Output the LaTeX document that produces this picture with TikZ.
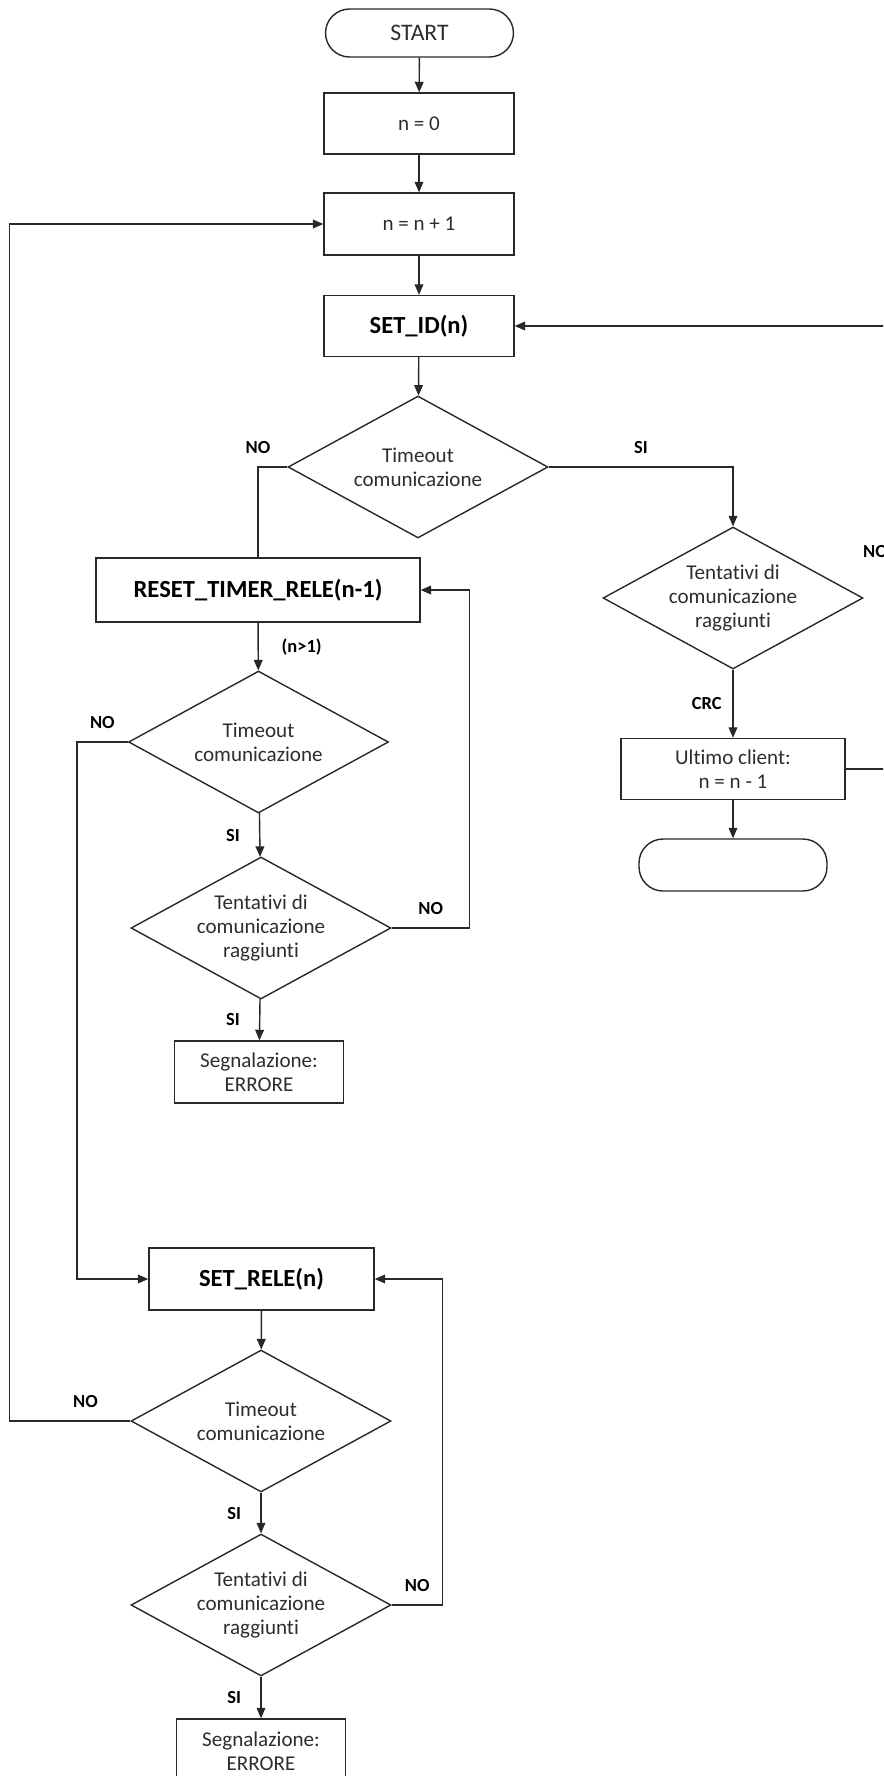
\documentclass[tikz,border=0pt]{standalone}
\usepackage{fontspec}
\setmainfont[Ligatures=NoCommon]{Carlito}
\usetikzlibrary{shapes.geometric, arrows.meta, positioning}
\definecolor{lineg}{RGB}{40, 40, 40}
\definecolor{textg}{RGB}{45, 45, 45}

\begin{document}
\begin{tikzpicture}[x=0.02cm, y=-0.02cm,
    box/.style={rectangle, draw=lineg, line width=0.8pt, inner sep=0pt,
                align=center, text=textg, font={\fontsize{12}{13.5}\selectfont}},
    boldbox/.style={box, text=black, font={\fontsize{14}{16}\selectfont\bfseries}},
    term/.style={box, rounded corners=0.48cm},
    decision/.style={diamond, draw=lineg, line width=0.8pt, aspect=1.83, inner sep=0pt,
                minimum width=5.2cm, minimum height=2.84cm, align=center, text=textg,
                font={\fontsize{12}{13.5}\selectfont}},
    lbl/.style={inner sep=1pt, text=black, font={\fontsize{10.5}{12}\selectfont\bfseries}},
    arr/.style={draw=lineg, line width=0.8pt, -{Triangle[length=6pt, width=5pt]}},
    ln/.style={draw=lineg, line width=0.8pt}]

    \useasboundingbox (0,0) rectangle (883,1776);
    \clip (0,0) rectangle (883,1776);

    % Start
    \node[term, minimum width=3.76cm, minimum height=0.96cm, font={\fontsize{13.5}{15}\selectfont}] (start) at (419.5, 33) {START};

    % Init
    \node[box, minimum width=3.8cm, minimum height=1.22cm] (n0) at (419, 123.5) {n = 0};
    \node[box, minimum width=3.8cm, minimum height=1.24cm] (ninc) at (419, 224) {n = n + 1};

    % SET_ID
    \node[boldbox, minimum width=3.8cm, minimum height=1.22cm] (setid) at (419, 326) {SET\_ID(n)};
    \node[decision] (dec1) at (418, 467) {Timeout\\comunicazione};

    % Right branch
    \node[decision] (dec2) at (733, 598) {Tentativi di\\comunicazione\\raggiunti};
    \node[box, minimum width=4.48cm, minimum height=1.22cm] (ultimo) at (733, 769) {Ultimo client:\\n = n - 1};
    \node[term, minimum width=3.76cm, minimum height=1.04cm] (fine) at (733, 865) {};
    \node[lbl, anchor=west] (nodec2) at (861, 552) {NO};

    % RESET_TIMER_RELE
    \node[boldbox, minimum width=6.48cm, minimum height=1.28cm] (reset) at (258, 590) {RESET\_TIMER\_RELE(n-1)};
    \node[decision] (dec3) at (258.5, 742) {Timeout\\comunicazione};
    \node[decision] (dec4) at (261, 928) {Tentativi di\\comunicazione\\raggiunti};
    \node[box, minimum width=3.38cm, minimum height=1.24cm] (err1) at (259, 1072) {Segnalazione:\\ERRORE};

    % SET_RELE
    \node[boldbox, minimum width=4.5cm, minimum height=1.24cm] (setrele) at (261.5, 1279) {SET\_RELE(n)};
    \node[decision] (dec5) at (261, 1421) {Timeout\\comunicazione};
    \node[decision] (dec6) at (261, 1605) {Tentativi di\\comunicazione\\raggiunti};
    \node[box, minimum width=3.38cm, minimum height=1.28cm] (err2) at (261, 1751) {Segnalazione:\\ERRORE};

    % Arrows
    \draw[arr] (start) -- (n0);
    \draw[arr] (n0) -- (ninc);
    \draw[arr] (ninc) -- (setid);
    \draw[arr] (setid) -- (dec1);
    \draw[ln] (dec1.west) -| node[lbl, pos=0.5, above=6pt]{NO} (reset.north);
    \draw[arr] (dec1.east) -| node[lbl, pos=0.25, above=6pt]{SI} (dec2.north);
    \draw[arr] (dec2) -- node[lbl, left=5pt]{CRC} (ultimo);
    \draw[arr] (ultimo) -- (fine);
    \draw[arr] (ultimo.east) -- ++(80,0) |- (setid.east);
    \draw[arr] (reset) -- node[lbl, right=12pt]{(n>1)} (dec3);
    \draw[arr] (dec3.west) -- ++(-51,0) node[lbl, midway, above=6pt]{NO} |- (setrele.west);
    \draw[arr] (dec3) -- node[lbl, left=10pt]{SI} (dec4);
    \draw[arr] (dec4.east) -- ++(78,0) node[lbl, midway, above=6pt]{NO} |- (reset.east);
    \draw[arr] (dec4) -- node[lbl, left=10pt]{SI} (err1);
    \draw[arr] (setrele) -- (dec5);
    \draw[arr] (dec5.west) -- ++(-121,0) node[lbl, pos=0.37, above=6pt]{NO} |- (ninc.west);
    \draw[arr] (dec5) -- node[lbl, left=10pt]{SI} (dec6);
    \draw[arr] (dec6.east) -- ++(51,0) node[lbl, midway, above=6pt]{NO} |- (setrele.east);
    \draw[arr] (dec6) -- node[lbl, left=10pt]{SI} (err2);
\end{tikzpicture}
\end{document}
